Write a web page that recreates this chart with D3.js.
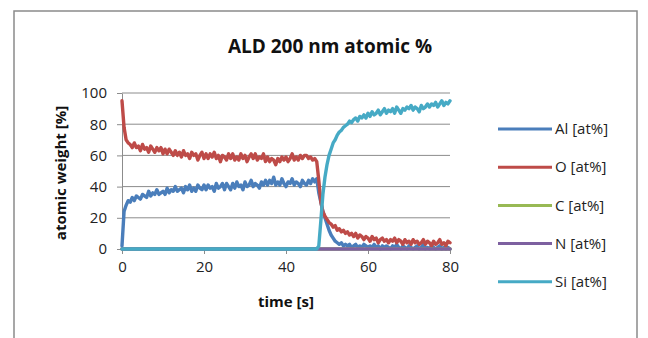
<!DOCTYPE html>
<html>
<head>
<meta charset="utf-8">
<title>ALD 200 nm atomic %</title>
<script src="https://d3js.org/d3.v7.min.js"></script>
<style>
  body { margin: 0; background: #fff; }
  * { font-family: 'Open Sans', sans-serif; }
  .grid line { stroke: #8c8c8c; stroke-width: 1; }
  .axis path, .axis line { stroke: #8c8c8c; }
  .axis text { fill: #222; font-size: 15px; }
</style>
</head>
<body>
<div id="chart"></div>
<script>
var width = 648, height = 338;

// sampling step of the measurement [s]
var step = 0.5;

// atomic %, one value every 0.5 s from 0 to 80 s
var alValues = [
  2, 24, 28, 31, 30, 33, 31, 34, 33, 32,
  35, 34, 33, 37, 34, 36, 35, 38, 35, 36,
  37, 35, 39, 36, 38, 37, 40, 37, 38, 39,
  36, 40, 38, 41, 37, 39, 37, 41, 39, 38,
  41, 38, 41, 39, 40, 37, 42, 39, 40, 42,
  38, 42, 40, 38, 42, 39, 43, 40, 41, 38,
  43, 40, 41, 44, 40, 42, 41, 39, 43, 41,
  44, 41, 44, 42, 46, 41, 43, 41, 45, 42,
  40, 43, 42, 45, 41, 43, 42, 40, 44, 42,
  41, 44, 42, 45, 43, 45, 36, 30, 24, 20,
  16, 12, 9, 7, 5, 4, 3, 4, 2, 3,
  2, 3, 1, 2, 3, 1, 2, 1, 3, 2,
  1, 2, 1, 3, 1, 2, 0, 2, 1, 2,
  1, 0, 2, 1, 3, 1, 0, 2, 1, 0,
  2, 1, 0, 1, 2, 0, 1, 3, 0, 1,
  0, 2, 1, 0, 1, 2, 0, 1, 0, 1,
  0
];
var oValues = [
  95, 78, 70, 68, 67, 65, 68, 65, 66, 63,
  67, 64, 65, 62, 66, 64, 62, 65, 63, 65,
  61, 64, 61, 64, 62, 60, 63, 60, 62, 59,
  63, 60, 61, 58, 62, 60, 61, 57, 60, 62,
  58, 61, 58, 61, 59, 62, 58, 60, 56, 60,
  59, 57, 61, 58, 61, 57, 59, 57, 61, 58,
  60, 56, 59, 61, 58, 61, 57, 59, 58, 61,
  56, 59, 56, 58, 57, 54, 58, 56, 59, 57,
  59, 56, 58, 61, 57, 59, 57, 60, 58, 60,
  60, 58, 59, 57, 58, 56, 44, 30, 24, 21,
  19, 17, 16, 14, 15, 12, 13, 11, 12, 10,
  11, 9, 10, 8, 10, 7, 9, 8, 6, 8,
  7, 5, 8, 6, 7, 4, 6, 7, 5, 6,
  4, 6, 5, 7, 4, 6, 5, 3, 6, 4,
  5, 3, 6, 4, 5, 3, 4, 6, 3, 5,
  4, 2, 5, 3, 4, 6, 3, 4, 2, 5,
  4
];
var siValues = [
  0, 0, 0, 0, 0, 0, 0, 0, 0, 0,
  0, 0, 0, 0, 0, 0, 0, 0, 0, 0,
  0, 0, 0, 0, 0, 0, 0, 0, 0, 0,
  0, 0, 0, 0, 0, 0, 0, 0, 0, 0,
  0, 0, 0, 0, 0, 0, 0, 0, 0, 0,
  0, 0, 0, 0, 0, 0, 0, 0, 0, 0,
  0, 0, 0, 0, 0, 0, 0, 0, 0, 0,
  0, 0, 0, 0, 0, 0, 0, 0, 0, 0,
  0, 0, 0, 0, 0, 0, 0, 0, 0, 0,
  0, 0, 0, 0, 0, 0, 2, 18, 35, 46,
  54, 60, 64, 68, 70, 73, 75, 76, 78, 79,
  80, 82, 81, 83, 84, 82, 85, 84, 86, 84,
  87, 85, 88, 86, 87, 89, 86, 88, 90, 87,
  89, 88, 90, 87, 91, 89, 87, 90, 89, 91,
  90, 92, 89, 91, 90, 88, 92, 90, 91, 93,
  91, 93, 92, 94, 91, 93, 95, 92, 94, 93,
  95
];
// C and N stay flat at zero for the whole run
var flatTimes = [0, 80];
var cValues = [0, 0];
var nValues = [0, 0];

var seriesNames = ["Al [at%]", "O [at%]", "C [at%]", "N [at%]", "Si [at%]"];
var seriesColors = ["#4a7ebb", "#be4b48", "#98b954", "#7d60a0", "#46aac5"];

var xTicks = [0, 20, 40, 60, 80];
var yTicks = [0, 20, 40, 60, 80, 100];

function sampled(values) {
  return values.map(function(v, i) { return { t: i * step, v: v }; });
}
function paired(times, values) {
  return times.map(function(t, i) { return { t: t, v: values[i] }; });
}
var series = [
  sampled(alValues),
  sampled(oValues),
  paired(flatTimes, cValues),
  paired(flatTimes, nValues),
  sampled(siValues)
];

var svg = d3.select("#chart").append("svg").attr("width", width).attr("height", height);

// chart frame
svg.append("rect")
  .attr("x", 14).attr("y", 11)
  .attr("width", 623).attr("height", 340)
  .attr("fill", "white").attr("stroke", "#8a8a8a").attr("stroke-width", 1.5);

var plot = { left: 122, right: 450, top: 93, bottom: 249 };

var x = d3.scaleLinear().domain([0, 80]).range([plot.left, plot.right]);
var y = d3.scaleLinear().domain([0, 100]).range([plot.bottom, plot.top]);

// horizontal gridlines
svg.append("g").attr("class", "grid")
  .selectAll("line").data(yTicks.slice(1)).enter().append("line")
  .attr("x1", plot.left).attr("x2", plot.right)
  .attr("y1", function(d) { return y(d); }).attr("y2", function(d) { return y(d); });

// axes
svg.append("g").attr("class", "axis")
  .attr("transform", "translate(0," + plot.bottom + ")")
  .call(d3.axisBottom(x).tickValues(xTicks).tickSize(5).tickPadding(7).tickSizeOuter(0));

svg.append("g").attr("class", "axis")
  .attr("transform", "translate(" + plot.left + ",0)")
  .call(d3.axisLeft(y).tickValues(yTicks).tickSize(5).tickPadding(10).tickSizeOuter(0));

svg.selectAll(".axis text").style("font-family", "'Open Sans', sans-serif");

// data lines
var line = d3.line()
  .x(function(d) { return x(d.t); })
  .y(function(d) { return y(d.v); });

svg.append("g").selectAll("path").data(series).enter().append("path")
  .attr("d", line)
  .attr("fill", "none")
  .attr("stroke", function(d, i) { return seriesColors[i]; })
  .attr("stroke-width", 3.4)
  .attr("stroke-linejoin", "round")
  .attr("stroke-linecap", "round");

// titles
svg.append("text")
  .attr("x", 330).attr("y", 53)
  .attr("text-anchor", "middle")
  .style("font-size", "19px").style("font-weight", "bold").style("fill", "#111")
  .text("ALD 200 nm atomic %");

svg.append("text")
  .attr("x", (plot.left + plot.right) / 2).attr("y", 307)
  .attr("text-anchor", "middle")
  .style("font-size", "15px").style("font-weight", "bold").style("fill", "#111")
  .text("time [s]");

svg.append("text")
  .attr("transform", "translate(66," + ((plot.top + plot.bottom) / 2 + 2) + ") rotate(-90)")
  .attr("text-anchor", "middle")
  .style("font-size", "15px").style("font-weight", "bold").style("fill", "#111")
  .text("atomic weight [%]");

// legend
var legend = svg.append("g").selectAll("g").data(seriesNames).enter().append("g")
  .attr("transform", function(d, i) { return "translate(498," + (129 + i * 38.2) + ")"; });

legend.append("line")
  .attr("x1", 0).attr("x2", 54)
  .attr("stroke", function(d, i) { return seriesColors[i]; })
  .attr("stroke-width", 3);

legend.append("text")
  .attr("x", 57).attr("dy", "0.35em")
  .style("font-size", "15px").style("fill", "#222")
  .text(function(d) { return d; });
</script>
</body>
</html>
